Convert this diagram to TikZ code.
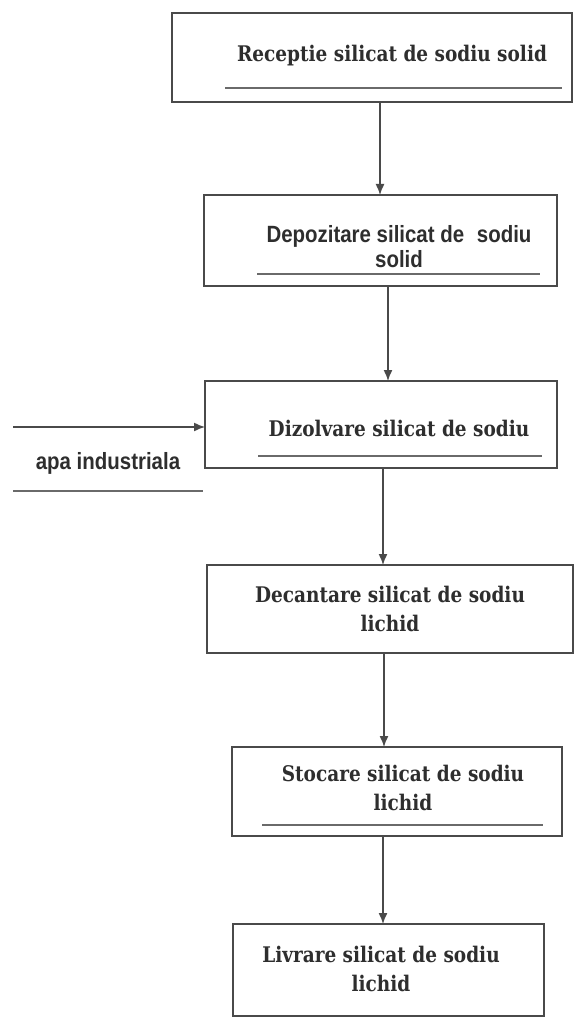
\documentclass[tikz,border=0pt]{standalone}
\usepackage{fontspec}
\setmainfont[FakeStretch=0.86]{DejaVu Serif}
\newfontfamily\narrowsans[FakeStretch=0.87]{Liberation Sans}
\usetikzlibrary{arrows.meta}
\definecolor{ink}{HTML}{4A4A4A}
\definecolor{txt}{HTML}{2E2E2E}
\definecolor{rule}{HTML}{6A6A6A}
\tikzset{
  box/.style={draw=ink, line width=1.4pt, fill=white, inner sep=0pt, outer sep=0pt},
  serlab/.style={text=txt, align=center, inner sep=0pt, font=\bfseries\fontsize{21.5}{29}\selectfont},
  sanslab/.style={text=txt, align=center, inner sep=0pt, font=\narrowsans\bfseries\fontsize{23.5}{25}\selectfont},
  uline/.style={draw=rule, line width=1.1pt},
  flow/.style={draw=ink, line width=1.4pt, -{Latex[length=11pt,width=9pt]}}
}
\begin{document}
\begin{tikzpicture}[x=1pt,y=-1pt]
\useasboundingbox (0,0) rectangle (574,1019);
\fill[white] (0,0) rectangle (574,1019);

% boxes
\node[box, minimum width=400pt, minimum height=89pt] (b1) at (372,57.5) {};
\node[box, minimum width=353pt, minimum height=91pt] (b2) at (380.5,240.5) {};
\node[box, minimum width=352pt, minimum height=87pt] (b3) at (381,424.5) {};
\node[box, minimum width=366pt, minimum height=88pt] (b4) at (390,609) {};
\node[box, minimum width=330pt, minimum height=89pt] (b5) at (397,791.5) {};
\node[box, minimum width=311pt, minimum height=92pt] (b6) at (388.5,970) {};

% labels
\node[serlab] (t1) at (392,56) {Receptie silicat de sodiu solid};
\node[sanslab] (t2) at (399,247) {Depozitare silicat de\hspace{0.3em} sodiu\\solid};
\node[serlab] (t3) at (399,428) {Dizolvare silicat de sodiu};
\node[serlab] (t4) at (390,609) {Decantare silicat de sodiu\\lichid};
\node[serlab] (t5) at (403,788) {Stocare silicat de sodiu\\lichid};
\node[serlab] (t6) at (381,969) {Livrare silicat de sodiu\\lichid};
\node[sanslab] (ta) at (108,463) {apa industriala};

% underlines inside boxes
\draw[uline] (225,88) -- (562,88);
\draw[uline] (257,274) -- (540,274);
\draw[uline] (258,456) -- (542,456);
\draw[uline] (262,825) -- (543,825);
\coordinate (l1) at (13,491);
\coordinate (l2) at (203,491);
\draw[uline] (l1) -- (l2);

% connectors
\draw[flow] (380,0 |- b1.south) -- (380,0 |- b2.north);
\draw[flow] (388,0 |- b2.south) -- (388,0 |- b3.north);
\draw[flow] (383,0 |- b3.south) -- (383,0 |- b4.north);
\draw[flow] (384,0 |- b4.south) -- (384,0 |- b5.north);
\draw[flow] (383,0 |- b5.south) -- (383,0 |- b6.north);
\coordinate (src) at (13,427);
\draw[flow] (src) -- (src -| b3.west);
\end{tikzpicture}
\end{document}
